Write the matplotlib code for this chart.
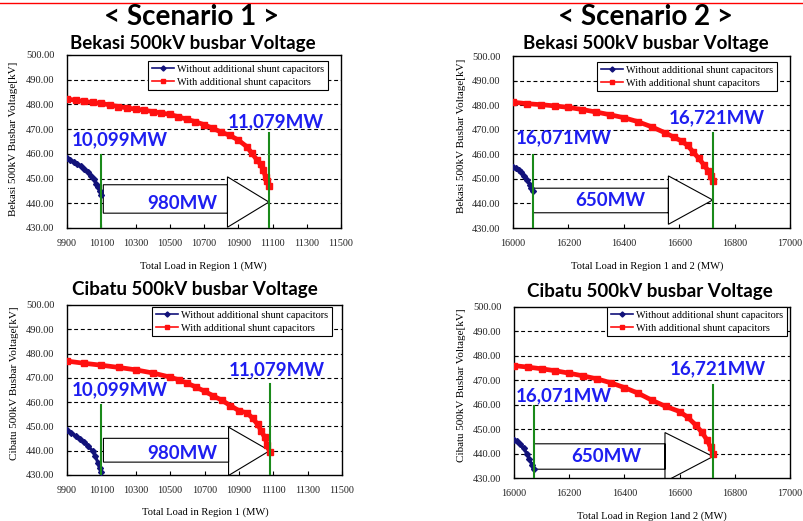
import matplotlib
matplotlib.use("Agg")
import matplotlib.pyplot as plt
from matplotlib.patches import Polygon
from matplotlib.lines import Line2D

W, H = 804, 521

# ---------------- data ----------------
s1_load_without = [9900, 9920, 9940, 9960, 9980, 10000, 10020, 10040, 10055, 10070, 10083, 10092, 10099]
s1_bekasi_without = [458.5, 457.6, 456.7, 455.8, 454.9, 453.9, 452.7, 451.2, 449.8, 448.0, 446.5, 445.0, 443.2]
s1_load_with = [9900, 9950, 10000, 10050, 10100, 10150, 10200, 10250, 10300, 10350, 10400, 10450,
                10500, 10550, 10600, 10650, 10700, 10750, 10800, 10850, 10900, 10950, 10980,
                11010, 11030, 11045, 11060, 11070, 11079]
s1_bekasi_with = [482.2, 481.7, 481.2, 480.8, 480.4, 479.8, 479.1, 478.6, 478.1, 477.7, 477.1, 476.5,
                  476.0, 475.0, 474.0, 473.0, 471.8, 470.4, 468.8, 467.5, 465.6, 462.9, 460.2,
                  457.5, 455.8, 453.5, 450.8, 449.0, 447.0]

s1_cib_load_without = [9900, 9925, 9950, 9975, 10000, 10025, 10050, 10065, 10080, 10090, 10099]
s1_cibatu_without = [448.4, 447.3, 446.2, 445.0, 443.5, 441.8, 439.8, 437.8, 435.0, 432.8, 431.2]
s1_cib_load_with = [9900, 10000, 10100, 10200, 10300, 10400, 10500, 10550, 10600, 10650, 10700,
                    10750, 10800, 10850, 10900, 10950, 10980, 11010, 11030, 11050, 11065, 11079]
s1_cibatu_with = [476.9, 476.0, 475.2, 474.3, 473.3, 472.0, 470.3, 469.2, 467.8, 466.2, 464.5,
                  462.6, 460.8, 458.6, 456.5, 455.5, 453.3, 450.8, 448.2, 445.5, 442.5, 439.5]

s2_load_without = [16000, 16010, 16020, 16030, 16040, 16050, 16060, 16066, 16071]
s2_bekasi_without = [455.0, 454.4, 453.6, 452.6, 451.3, 449.6, 447.6, 446.2, 445.2]
s2_load_with = [16000, 16050, 16100, 16150, 16200, 16250, 16300, 16350, 16400, 16450, 16500,
                16550, 16580, 16610, 16630, 16650, 16670, 16690, 16705, 16715, 16721]
s2_bekasi_with = [481.2, 480.6, 480.2, 479.7, 479.1, 478.2, 477.2, 476.1, 474.9, 473.3, 471.2,
                  468.7, 467.0, 465.3, 463.6, 461.0, 458.4, 455.6, 453.2, 451.2, 449.0]

s2_cib_load_without = [16000, 16010, 16022, 16035, 16046, 16056, 16064, 16071]
s2_cibatu_without = [445.6, 445.0, 443.8, 442.3, 440.0, 437.8, 435.5, 433.5]
s2_cib_load_with = [16000, 16050, 16100, 16150, 16200, 16250, 16300, 16350, 16400, 16450, 16500,
                    16550, 16600, 16630, 16660, 16680, 16700, 16712, 16721]
s2_cibatu_with = [476.0, 475.4, 474.7, 473.9, 472.9, 471.8, 470.6, 469.0, 467.0, 464.7, 461.8,
                  459.3, 457.2, 454.8, 451.5, 448.8, 445.5, 442.5, 440.0]

s1_limits = [10099, 11079]
s2_limits = [16071, 16721]
s1_gain_label = "980MW"
s2_gain_label = "650MW"
s1_limit_labels = ["10,099MW", "11,079MW"]
s2_limit_labels = ["16,071MW", "16,721MW"]

y_ticks = [430, 440, 450, 460, 470, 480, 490, 500]
s1_x_ticks = [9900, 10100, 10300, 10500, 10700, 10900, 11100, 11300, 11500]
s2_x_ticks = [16000, 16200, 16400, 16600, 16800, 17000]

label_without = "Without additional shunt capacitors"
label_with = "With additional shunt capacitors"

# ---------------- style ----------------
NAVY = "#12127a"
RED = "#ff1010"
GREEN = "#1a8a1a"
ANN_BLUE = "#1e1ef0"
SERIF = ["Liberation Serif", "DejaVu Serif"]
SANS = ["Lato", "DejaVu Sans"]

fig = plt.figure(figsize=(W / 100, H / 100), dpi=100)
fig.patch.set_facecolor("white")


def px_axes(x0, y0, x1, y1):
    return fig.add_axes([x0 / W, 1 - y1 / H, (x1 - x0) / W, (y1 - y0) / H])


def ftext(x, y, s, **kw):
    fig.text(x / W, 1 - y / H, s, **kw)


def panel(ax, xw, yw, xr, yr, xlim, xticks, limits, green_tops, lim_labels, lim_pos,
          gain_label, gain_pos, arrow, legend_anchor):
    ax.set_xlim(*xlim)
    ax.set_ylim(430, 500)
    ax.set_yticks(y_ticks)
    ax.set_yticklabels([f"{v:.2f}" for v in y_ticks])
    ax.set_xticks(xticks)
    ax.set_xticklabels([str(v) for v in xticks])
    ax.tick_params(direction="in", length=3, width=0.8, color="black")
    ax.tick_params(axis="y", labelsize=7.5, pad=9, labelcolor="#222222")
    ax.tick_params(axis="x", labelsize=7.3, pad=8, labelcolor="#222222")
    for lab in ax.get_xticklabels() + ax.get_yticklabels():
        lab.set_family(SERIF)
    for sp in ax.spines.values():
        sp.set_linewidth(1.0)
        sp.set_color("black")
    for v in y_ticks[1:-1]:
        ax.axhline(v, color="black", lw=0.8, ls=(0, (3.5, 2.5)), zorder=1)

    # arrow (hollow block arrow)
    x0, x1 = limits
    bx0, hx = arrow["body_x0"], arrow["head_x"]
    by0, by1 = arrow["body_y"]
    hy0, hy1 = arrow["head_y"]
    ty = arrow["tip_y"]
    poly = Polygon([(bx0, by0), (hx, by0), (hx, hy0), (x1, ty), (hx, hy1), (hx, by1), (bx0, by1)],
                   closed=True, facecolor="white", edgecolor="black", lw=0.8, zorder=2)
    ax.add_patch(poly)

    ax.plot(xr, yr, color=RED, lw=3.4, marker="s", markersize=4.2, zorder=4,
            solid_capstyle="butt", label=label_with)
    ax.plot(xw, yw, color=NAVY, lw=2.3, marker="D", markersize=3.0, zorder=4, label=label_without)

    for xv, top in zip(limits, green_tops):
        ax.plot([xv, xv], [429, top], color=GREEN, lw=1.5, zorder=5, clip_on=True)

    for s, (tx, ty2) in zip(lim_labels, lim_pos):
        ax.text(tx, ty2, s, color=ANN_BLUE, fontsize=13.5, fontweight="bold", family=SANS,
                ha="left", va="center", zorder=6)
    ax.text(gain_pos[0], gain_pos[1], gain_label, color=ANN_BLUE, fontsize=13.5, fontweight="bold",
            family=SANS, ha="center", va="center", zorder=6)

    handles = [Line2D([], [], color=NAVY, lw=1.2, marker="D", markersize=2.6),
               Line2D([], [], color=RED, lw=1.2, marker="s", markersize=3.2)]
    leg = ax.legend(handles, [label_without, label_with], loc="upper right",
                    bbox_to_anchor=legend_anchor, prop={"family": SERIF, "size": 7.4},
                    frameon=True, fancybox=False, framealpha=1, edgecolor="black",
                    borderpad=0.35, labelspacing=0.35, handlelength=2.2, handletextpad=0.3,
                    borderaxespad=0)
    leg.get_frame().set_linewidth(0.8)
    leg.set_zorder(7)


# top red rule
fig.add_artist(Line2D([0, 1], [1 - 3 / H, 1 - 3 / H], transform=fig.transFigure, color="red", lw=1.0))

# ---- Scenario 1 Bekasi
ax1 = px_axes(67, 55, 341, 228)
panel(ax1, s1_load_without, s1_bekasi_without, s1_load_with, s1_bekasi_with, (9900, 11500), s1_x_ticks,
      s1_limits, [459.5, 468.3], s1_limit_labels, [(9925, 465.6), (10840, 472.9)],
      s1_gain_label, (10572, 439.8),
      dict(body_x0=10112, head_x=10837, body_y=(436.0, 447.5), head_y=(450.7, 430.3), tip_y=440.5),
      (0.953, 0.965))

# ---- Scenario 2 Bekasi
ax2 = px_axes(513, 56, 790, 228)
panel(ax2, s2_load_without, s2_bekasi_without, s2_load_with, s2_bekasi_with, (16000, 17000), s2_x_ticks,
      s2_limits, [459.7, 468.5], s2_limit_labels, [(16011, 466.6), (16563, 474.8)],
      s2_gain_label, (16353, 441.0),
      dict(body_x0=16071, head_x=16561, body_y=(436.2, 446.2), head_y=(451.2, 431.5), tip_y=441.4),
      (0.953, 0.965))

# ---- Scenario 1 Cibatu
ax3 = px_axes(67, 305, 342, 475)
panel(ax3, s1_cib_load_without, s1_cibatu_without, s1_cib_load_with, s1_cibatu_with, (9900, 11500), s1_x_ticks,
      s1_limits, [458.7, 467.5], s1_limit_labels, [(9925, 465.0), (10840, 473.2)],
      s1_gain_label, (10572, 438.9),
      dict(body_x0=10112, head_x=10840, body_y=(435.3, 445.1), head_y=(449.7, 429.8), tip_y=440.0),
      (0.964, 0.988))

# ---- Scenario 2 Cibatu
ax4 = px_axes(514, 307, 790, 478)
panel(ax4, s2_cib_load_without, s2_cibatu_without, s2_cib_load_with, s2_cibatu_with, (16000, 17000), s2_x_ticks,
      s2_limits, [459.3, 468.0], s2_limit_labels, [(16007, 463.5), (16563, 474.6)],
      s2_gain_label, (16336, 439.0),
      dict(body_x0=16071, head_x=16547, body_y=(433.6, 444.0), head_y=(448.6, 428.5), tip_y=438.8),
      (0.989, 1.0))

# titles
ftext(192, 17, "< Scenario 1 >", fontsize=20, fontweight="bold", family=SANS, ha="center", va="center")
ftext(646, 17, "< Scenario 2 >", fontsize=20, fontweight="bold", family=SANS, ha="center", va="center")
ftext(193, 43, "Bekasi 500kV busbar Voltage", fontsize=13.5, fontweight="bold", family=SANS, ha="center", va="center")
ftext(646, 43, "Bekasi 500kV busbar Voltage", fontsize=13.5, fontweight="bold", family=SANS, ha="center", va="center")
ftext(195, 289, "Cibatu 500kV busbar Voltage", fontsize=13.5, fontweight="bold", family=SANS, ha="center", va="center")
ftext(650, 291, "Cibatu 500kV busbar Voltage", fontsize=13.5, fontweight="bold", family=SANS, ha="center", va="center")

# axis labels
ftext(14, 139, "Bekasi 500kV Busbar Voltage[kV]", fontsize=8, family=SERIF, rotation=90, ha="center", va="center")
ftext(462, 136, "Bekasi 500kV Busbar Voltage[kV]", fontsize=8, family=SERIF, rotation=90, ha="center", va="center")
ftext(15, 383, "Cibatu 500kV Busbar Voltage[kV]", fontsize=8, family=SERIF, rotation=90, ha="center", va="center")
ftext(462, 385, "Cibatu 500kV Busbar Voltage[kV]", fontsize=8, family=SERIF, rotation=90, ha="center", va="center")

ftext(203, 266, "Total Load in Region 1 (MW)", fontsize=7.6, family=SERIF, ha="center", va="center")
ftext(647, 266, "Total Load in Region 1 and 2 (MW)", fontsize=7.6, family=SERIF, ha="center", va="center")
ftext(205, 512, "Total Load in Region 1 (MW)", fontsize=7.6, family=SERIF, ha="center", va="center")
ftext(652, 516, "Total Load in Region 1and 2 (MW)", fontsize=7.6, family=SERIF, ha="center", va="center")

fig.savefig("out.png", dpi=100, facecolor="white")
